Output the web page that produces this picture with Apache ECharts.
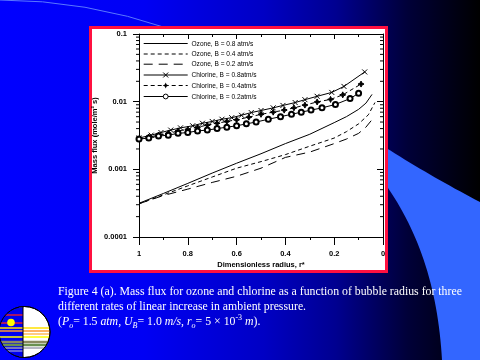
<!DOCTYPE html>
<html><head><meta charset="utf-8">
<script src="https://cdn.jsdelivr.net/npm/echarts@6/dist/echarts.min.js"></script>
<style>html,body{margin:0;padding:0;background:#000;}#c{width:480px;height:360px;}</style>
</head><body><div id="c"></div>
<script>
// ---- data ----
const seriesNames = ['Ozone, B = 0.8 atm/s','Ozone, B = 0.4 atm/s','Ozone, B = 0.2 atm/s',
                     'Chlorine, B = 0.8atm/s','Chlorine, B = 0.4atm/s','Chlorine, B = 0.2atm/s'];
const rOz08 = [1.00, 0.90, 0.80, 0.70, 0.60, 0.50, 0.40, 0.30, 0.20, 0.15, 0.10, 0.07, 0.045];
const oz08  = [0.000315, 0.00044, 0.00062, 0.00088, 0.00123, 0.0017, 0.0024, 0.0033, 0.0049, 0.0060, 0.0077, 0.0095, 0.0128];
const rOz04 = [1.00, 0.90, 0.80, 0.70, 0.60, 0.50, 0.40, 0.30, 0.20, 0.15, 0.10, 0.06, 0.033];
const oz04  = [0.00031, 0.00042, 0.00057, 0.00077, 0.00104, 0.0013, 0.00165, 0.0022, 0.0029, 0.0036, 0.0047, 0.0064, 0.0097];
const rOz02 = [1.00, 0.90, 0.80, 0.70, 0.60, 0.50, 0.40, 0.30, 0.20, 0.15, 0.10, 0.07, 0.04];
const oz02  = [0.00031, 0.00041, 0.00051, 0.00064, 0.00079, 0.00104, 0.0015, 0.0018, 0.0024, 0.0028, 0.0034, 0.0042, 0.0057];
const rCl08 = [1.00, 0.95, 0.91, 0.87, 0.83, 0.78, 0.74, 0.70, 0.66, 0.62, 0.58, 0.54, 0.50, 0.45, 0.41, 0.36, 0.32, 0.27, 0.21, 0.16, 0.075];
const cl08  = [0.0029, 0.0032, 0.0035, 0.0038, 0.0041, 0.0044, 0.0048, 0.0051, 0.0055, 0.0058, 0.0063, 0.0069, 0.0074, 0.0081, 0.0088, 0.0097, 0.0107, 0.0120, 0.0137, 0.0168, 0.0275];
const rCl04 = [1.00, 0.96, 0.92, 0.88, 0.84, 0.80, 0.76, 0.72, 0.68, 0.64, 0.60, 0.55, 0.50, 0.45, 0.405, 0.365, 0.32, 0.27, 0.215, 0.165, 0.09];
const cl04  = [0.0028, 0.0030, 0.0032, 0.0034, 0.0037, 0.0039, 0.0042, 0.0045, 0.0048, 0.0051, 0.0054, 0.0059, 0.0065, 0.0070, 0.0075, 0.0081, 0.0089, 0.0099, 0.0108, 0.0126, 0.0182];
const rCl02 = [1.00, 0.96, 0.92, 0.88, 0.84, 0.80, 0.76, 0.72, 0.68, 0.64, 0.60, 0.56, 0.52, 0.47, 0.42, 0.375, 0.335, 0.295, 0.25, 0.195, 0.135, 0.10];
const cl02  = [0.0028, 0.0029, 0.0031, 0.0032, 0.0034, 0.0035, 0.0037, 0.0038, 0.0040, 0.0042, 0.0044, 0.0047, 0.0050, 0.0055, 0.0060, 0.0065, 0.0070, 0.0075, 0.0081, 0.0091, 0.0111, 0.0133];
const xTickValues = [0, 0.2, 0.4, 0.6, 0.8, 1];
const xTickLabels = ['0', '0.2', '0.4', '0.6', '0.8', '1'];
const yTickValues = [0.0001, 0.001, 0.01, 0.1];
const yTickLabels = ['0.0001', '0.001', '0.01', '0.1'];
const yMinorTicks = [0.0002,0.0003,0.0004,0.0005,0.0006,0.0007,0.0008,0.0009,
                     0.002,0.003,0.004,0.005,0.006,0.007,0.008,0.009,
                     0.02,0.03,0.04,0.05,0.06,0.07,0.08,0.09];
const xAxisTitle = 'Dimensionless radius, r*';
const yAxisTitle = 'Mass flux (mole/m\u00b2 s)';
const captionLines = ['Figure 4 (a). Mass flux for ozone and chlorine as a function of bubble radius for three',
                      'different rates of linear increase in ambient pressure.'];

// ---- styles ----
const AX = '"Liberation Sans Narrow","Liberation Sans",Arial,sans-serif';
const SERIF = '"Liberation Serif","Times New Roman",serif';
const DASH_S = [4, 3], DASH_L = [9, 6];
const pairs = (r, v) => r.map((x, i) => [x, v[i]]);

const chart = echarts.init(document.getElementById('c'), null, {renderer: 'canvas', width: 480, height: 360});

function lineSeries(name, data, dash, symbol, extra) {
  return Object.assign({
    name, type: 'line', data, color: '#000',
    symbol: symbol || 'none', symbolSize: 5, showSymbol: !!symbol,
    lineStyle: {color: '#000', width: 1, type: dash || 'solid'},
    itemStyle: {color: '#000', borderColor: '#000', borderWidth: 1},
    emphasis: {disabled: true}, animation: false, z: 3
  }, extra || {});
}

const xMark = 'path://M0,0L10,10M10,0L0,10';
const starMark = 'path://M5,0L6.6,3.4L10,5L6.6,6.6L5,10L3.4,6.6L0,5L3.4,3.4Z';

// ---- legend (drawn as graphic: sample line + marker + text) ----
const LEG_X0 = 143.7, LEG_X1 = 187.7, LEG_TX = 191.5;
const legendRowsY = [43.5, 54, 64.2, 75, 85.5, 96.5];
const legendDash = ['solid', DASH_S, DASH_L, 'solid', DASH_S, 'solid'];
const legendMarker = [null, null, null, 'x', 'star', 'circle'];
function markerGraphic(kind, cx, cy) {
  const s = 2.5;
  if (kind === 'x') return [
    {type: 'line', shape: {x1: cx - s, y1: cy - s, x2: cx + s, y2: cy + s}, style: {stroke: '#000', lineWidth: 1}, z: 8},
    {type: 'line', shape: {x1: cx + s, y1: cy - s, x2: cx - s, y2: cy + s}, style: {stroke: '#000', lineWidth: 1}, z: 8}];
  if (kind === 'star') return [{type: 'polygon', shape: {points: [[cx, cy - 3], [cx + 0.9, cy - 0.9], [cx + 3, cy], [cx + 0.9, cy + 0.9], [cx, cy + 3], [cx - 0.9, cy + 0.9], [cx - 3, cy], [cx - 0.9, cy - 0.9]]}, style: {fill: '#000'}, z: 8}];
  if (kind === 'circle') return [{type: 'circle', shape: {cx, cy, r: 2.4}, style: {fill: '#fff', stroke: '#000', lineWidth: 1}, z: 8}];
  return [];
}
const legendGraphics = [];
seriesNames.forEach((nm, i) => {
  const y = legendRowsY[i];
  const dash = legendDash[i];
  legendGraphics.push({type: 'line', shape: {x1: LEG_X0, y1: y, x2: LEG_X1, y2: y},
    style: {stroke: '#000', lineWidth: 1, lineDash: dash === 'solid' ? null : dash}, z: 7});
  markerGraphic(legendMarker[i], (LEG_X0 + LEG_X1) / 2, y).forEach(g => legendGraphics.push(g));
  legendGraphics.push({type: 'text', x: LEG_TX, y: y, scaleX: 0.82,
    style: {text: nm, fill: '#000', font: '8px ' + AX, verticalAlign: 'middle'}, z: 8});
});

// decorative slide band (bezier outline sampled to a polygon)
function bandPoints() {
  const pts = [];
  const q = (t, a, b, c) => (1 - t) * (1 - t) * a + 2 * (1 - t) * t * b + t * t * c;
  for (let i = 0; i <= 20; i++) { const t = i / 20; pts.push([q(t, 380, 430, 480), q(t, 144, 176, 202)]); }
  pts.push([480, 360]);
  const cb = (t, a, b, c, d) => Math.pow(1 - t, 3) * a + 3 * Math.pow(1 - t, 2) * t * b + 3 * (1 - t) * t * t * c + t * t * t * d;
  for (let i = 0; i <= 30; i++) { const t = i / 30; pts.push([cb(t, 442, 438, 420, 388), cb(t, 360, 290, 235, 188)]); }
  pts.push([380, 190]);
  return pts;
}

// logo pieces
const LX = 24.5, LY = 332, LR = 25.5;
const chord = dy => Math.sqrt(Math.max(0, LR * LR - dy * dy));
function hStripe(dy, color, side, w) {
  const c = chord(dy);
  const x1 = side === 'right' ? LX - 1.5 : LX - c;
  const x2 = side === 'left' ? LX - 1.5 : LX + c;
  return {type: 'line', shape: {x1, y1: LY + dy, x2, y2: LY + dy}, style: {stroke: color, lineWidth: w || 1.3}, z: 5};
}
const logo = [
  {type: 'circle', shape: {cx: LX, cy: LY, r: LR}, style: {fill: '#ffffff', stroke: '#000', lineWidth: 1}, z: 4},
  {type: 'sector', shape: {cx: LX - 1.5, cy: LY, r: LR - 0.5, r0: 0, startAngle: Math.PI / 2, endAngle: Math.PI * 1.5}, style: {fill: '#0000f0'}, z: 4},
  hStripe(-17, '#ff2020', 'left'),
  hStripe(-9, '#ff2020', 'left'),
  hStripe(-4, '#ffe000', 'both'),
  hStripe(-1, '#ff9a30', 'both'),
  hStripe(2, '#ffb040', 'right'),
  hStripe(5, '#ffff00', 'both'),
  hStripe(10, '#8a8a60', 'both', 2.5),
  hStripe(13, '#6a9050', 'both', 2.5),
  hStripe(16, '#a0a0b0', 'both', 1.5),
  hStripe(19, '#c0c0d0', 'left', 1),
  {type: 'circle', shape: {cx: 11, cy: 322.5, r: 3.8}, style: {fill: '#ffff00'}, z: 6},
  {type: 'line', shape: {x1: LX - 1.5, y1: LY - LR, x2: LX - 1.5, y2: LY + LR}, style: {stroke: '#000', lineWidth: 1}, z: 6},
  {type: 'circle', shape: {cx: LX, cy: LY, r: LR}, style: {fill: 'none', stroke: '#000', lineWidth: 1}, z: 7}
];

const option = {
  backgroundColor: {type: 'linear', x: 0, y: 0, x2: 1, y2: 0, colorStops: [
    {offset: 0, color: '#0000ff'}, {offset: 0.3, color: '#0000f4'}, {offset: 0.55, color: '#0000c4'},
    {offset: 0.7, color: '#000090'}, {offset: 0.85, color: '#000038'}, {offset: 1, color: '#000000'}]},
  animation: false,
  graphic: {elements: [
    {type: 'polygon', shape: {points: bandPoints()}, style: {fill: '#3366ff'}, z: -20, silent: true},
    {type: 'bezierCurve', shape: {x1: 0, y1: 0, cpx1: 85, cpy1: 0, x2: 170, y2: 29}, style: {fill: 'none', stroke: '#5a78ff', lineWidth: 1}, z: -20, silent: true},
    {type: 'rect', shape: {x: 90.5, y: 27.5, width: 296, height: 244}, style: {fill: '#ffffff', stroke: '#ff1040', lineWidth: 3}, z: -10, silent: true},
    {type: 'text', x: 58, y: 292, style: {text: captionLines[0], fill: '#fff', font: '11.8px ' + SERIF, verticalAlign: 'middle'}, z: 5},
    {type: 'text', x: 58, y: 307, style: {text: captionLines[1], fill: '#fff', font: '11.8px ' + SERIF, verticalAlign: 'middle'}, z: 5},
    {type: 'text', x: 58, y: 322, style: {
      text: '{n|(}{i|P}{sub|o}{n|= 1.5 }{i|atm}{n|, }{i|U}{sub|B}{n|= 1.0 }{i|m/s}{n|, }{i|r}{sub|o}{n|= 5 \u00d7 10}{sup|-3}{n| }{i|m}{n|).}',
      fill: '#fff', verticalAlign: 'middle',
      rich: {
        n: {fontFamily: SERIF, fontSize: 11.8, lineHeight: 16, fill: '#fff'},
        i: {fontFamily: SERIF, fontSize: 11.8, fontStyle: 'italic', lineHeight: 16, fill: '#fff'},
        sub: {fontFamily: SERIF, fontSize: 8, fontStyle: 'italic', lineHeight: 9, verticalAlign: 'bottom', fill: '#fff'},
        sup: {fontFamily: SERIF, fontSize: 8, lineHeight: 9, verticalAlign: 'top', fill: '#fff'}
      }}, z: 5}
  ].concat(logo, legendGraphics)},
  grid: {left: 139, right: 97, top: 34, bottom: 123, containLabel: false},
  legend: {show: false, data: seriesNames},
  xAxis: [
    {type: 'value', position: 'bottom', inverse: true, min: 0, max: 1, interval: 0.2,
     axisLine: {show: true, onZero: false, lineStyle: {color: '#000', width: 1}},
     axisTick: {show: true, inside: false, length: 8, lineStyle: {color: '#000', width: 1}},
     minorTick: {show: true, splitNumber: 2, length: 3, lineStyle: {color: '#000', width: 1}},
     splitLine: {show: false},
     axisLabel: {margin: 13, fontFamily: AX, fontSize: 7.5, fontWeight: 'bold', color: '#000',
       formatter: v => { const i = xTickValues.findIndex(t => Math.abs(t - v) < 1e-9); return i >= 0 ? xTickLabels[i] : ''; }},
     name: xAxisTitle, nameLocation: 'middle', nameGap: 24, nameMoveOverlap: false,
     nameTextStyle: {fontFamily: AX, fontSize: 7.5, fontWeight: 'bold', color: '#000'}},
    {type: 'value', position: 'top', inverse: true, min: 0, max: 1, interval: 0.2,
     axisLine: {show: true, onZero: false, lineStyle: {color: '#000', width: 1}},
     axisTick: {show: true, inside: true, length: 5, lineStyle: {color: '#000', width: 1}},
     minorTick: {show: true, splitNumber: 2, length: 3, lineStyle: {color: '#000', width: 1}},
     splitLine: {show: false}, axisLabel: {show: false}}
  ],
  yAxis: [
    {type: 'log', logBase: 10, position: 'left', min: 0.0001, max: 0.1,
     axisLine: {show: true, onZero: false, lineStyle: {color: '#000', width: 1}},
     axisTick: {show: true, inside: false, length: 6, lineStyle: {color: '#000', width: 1}},
     minorTick: {show: false}, splitLine: {show: false},
     axisLabel: {margin: 12, fontFamily: AX, fontSize: 7.5, fontWeight: 'bold', color: '#000',
       formatter: v => { const i = yTickValues.findIndex(t => Math.abs(Math.log10(t) - Math.log10(v)) < 1e-6); return i >= 0 ? yTickLabels[i] : ''; }},
     name: yAxisTitle, nameLocation: 'middle', nameGap: 40, nameRotate: 90, nameMoveOverlap: false,
     nameTextStyle: {fontFamily: AX, fontSize: 7.5, fontWeight: 'bold', color: '#000'}},
    {type: 'log', logBase: 10, position: 'right', min: 0.0001, max: 0.1,
     axisLine: {show: true, onZero: false, lineStyle: {color: '#000', width: 1}},
     axisTick: {show: true, inside: true, length: 6, lineStyle: {color: '#000', width: 1}},
     minorTick: {show: false}, splitLine: {show: false}, axisLabel: {show: false}}
  ],
  series: [
    lineSeries(seriesNames[0], pairs(rOz08, oz08), 'solid'),
    lineSeries(seriesNames[1], pairs(rOz04, oz04), DASH_S),
    lineSeries(seriesNames[2], pairs(rOz02, oz02), DASH_L),
    lineSeries(seriesNames[3], pairs(rCl08, cl08), 'solid', xMark, {symbolSize: 5}),
    lineSeries(seriesNames[4], pairs(rCl04, cl04), DASH_S, starMark, {symbolSize: 6}),
    lineSeries(seriesNames[5], pairs(rCl02, cl02), 'solid', 'emptyCircle', {symbolSize: 5}),
    {type: 'custom', name: 'minorTicks', xAxisIndex: 0, yAxisIndex: 0, silent: true, clip: false, z: 4,
     data: yMinorTicks.map(v => [1, v]),
     renderItem: (params, api) => {
       const v = api.value(1);
       const pL = api.coord([1, v]);
       const pR = api.coord([0, v]);
       return {type: 'group', children: [
         {type: 'line', shape: {x1: pL[0] - 3, y1: pL[1], x2: pL[0], y2: pL[1]}, style: {stroke: '#000', lineWidth: 1}},
         {type: 'line', shape: {x1: pR[0] - 3, y1: pR[1], x2: pR[0], y2: pR[1]}, style: {stroke: '#000', lineWidth: 1}}
       ]};
     }}
  ]
};
chart.setOption(option);
</script></body></html>
